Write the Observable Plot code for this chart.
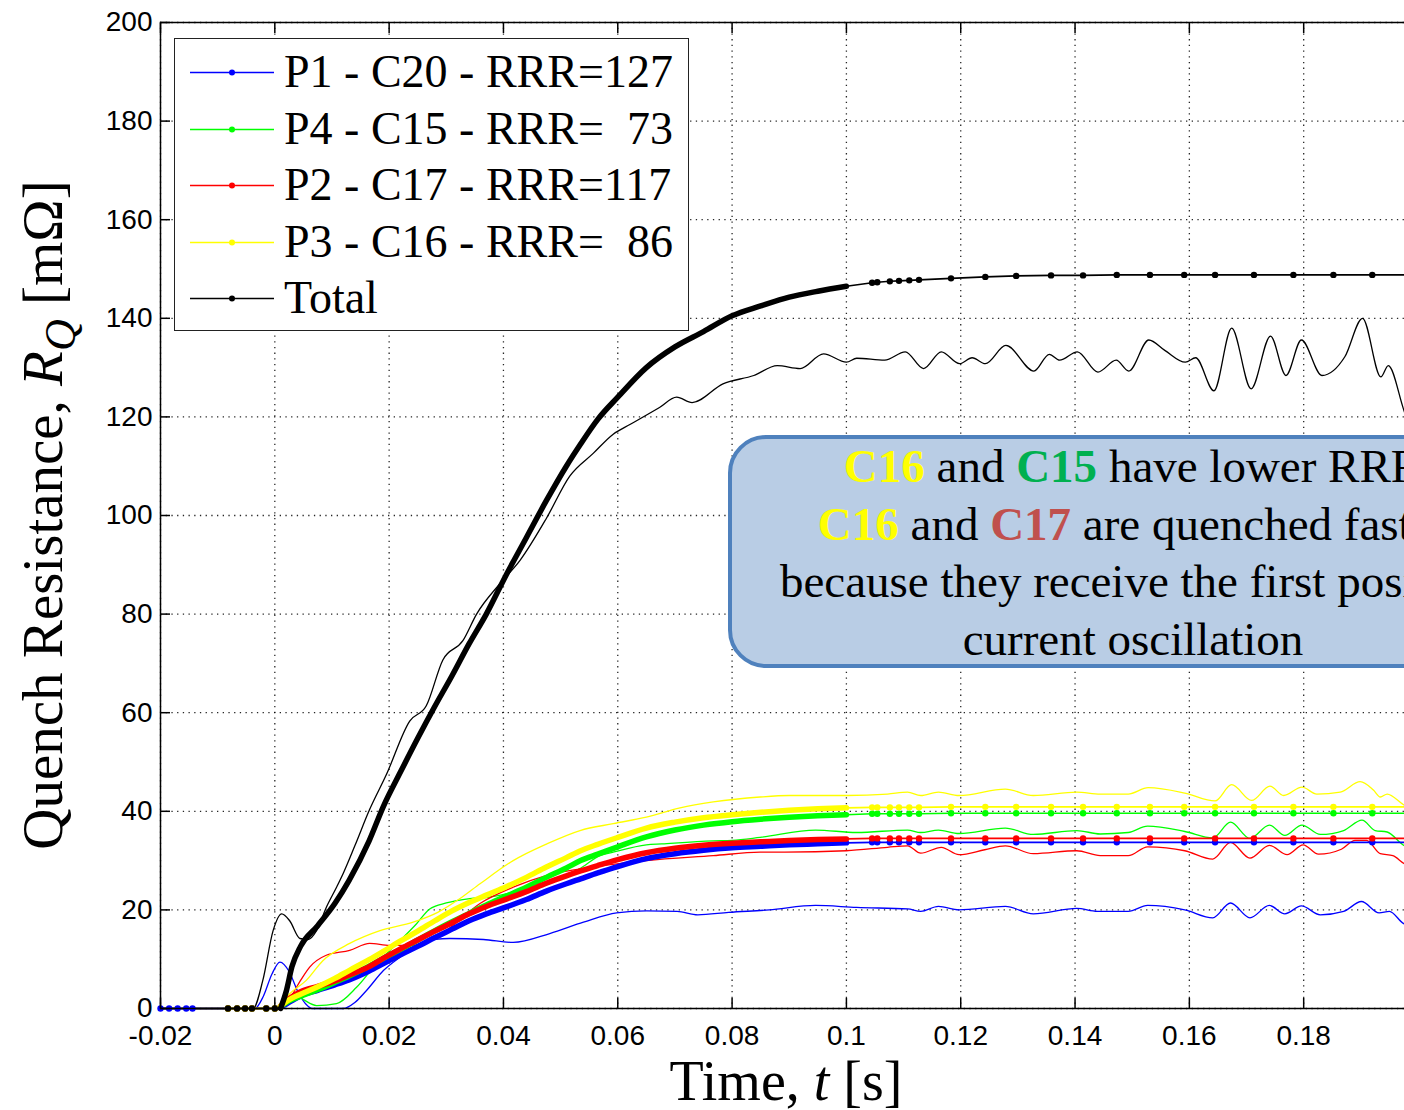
<!DOCTYPE html>
<html>
<head>
<meta charset="utf-8">
<script src="https://cdn.jsdelivr.net/npm/d3@7"></script>
<script src="https://cdn.jsdelivr.net/npm/@observablehq/plot@0.6"></script>
<style>
html,body{margin:0;padding:0;background:#fff;overflow:hidden;width:1404px;height:1110px}
#wrap{position:relative;width:1420px;height:1110px}
#legend{position:absolute;left:174px;top:38px;width:515px;height:293px;box-sizing:border-box;border:1.5px solid #222;background:#fff;font-family:"Liberation Serif","Times New Roman",serif;font-size:46px;color:#000}
.row{position:absolute;left:0;width:100%;height:56.5px;line-height:56.5px;white-space:pre}
.row svg{position:absolute;left:15px;top:0}
.row span{position:absolute;left:109px;top:0}
#note{position:absolute;left:728px;top:435px;width:810px;height:233px;box-sizing:border-box;border:4px solid #4f81bd;border-radius:38px;background:#b9cde5}
#notetext{position:absolute;left:728px;top:438px;width:810px;text-align:center;font-family:"Liberation Serif","Times New Roman",serif;font-size:47px;line-height:57.5px;white-space:nowrap;color:#000}
#notetext b{font-weight:bold}
</style>
</head>
<body>
<div id="wrap"></div>
<script>
// ---------- data ----------
const xTicks = [-0.02, 0, 0.02, 0.04, 0.06, 0.08, 0.1, 0.12, 0.14, 0.16, 0.18, 0.2];
const xLabelTicks = [-0.02, 0, 0.02, 0.04, 0.06, 0.08, 0.1, 0.12, 0.14, 0.16, 0.18];
const yTicks = [0, 20, 40, 60, 80, 100, 120, 140, 160, 180, 200];

const seriesNames = ["P1 - C20 - RRR=127", "P4 - C15 - RRR=  73", "P2 - C17 - RRR=117", "P3 - C16 - RRR=  86", "Total"];
const seriesColors = ["#0000ff", "#00ff00", "#ff0000", "#ffff00", "#000000"];

// simulated curves (marker curves), shared time samples
const simTime = [-0.02, -0.0185, -0.017, -0.0155, -0.0144, -0.0082, -0.0066, -0.0052, -0.004, -0.0015, 0,
  0.001, 0.002, 0.003, 0.0045, 0.0075, 0.0105, 0.013, 0.0165, 0.019, 0.022,
  0.025, 0.028, 0.031, 0.034, 0.037, 0.0405, 0.044, 0.0475, 0.051, 0.0535,
  0.0565, 0.06, 0.065, 0.07, 0.075, 0.08, 0.085, 0.09, 0.095, 0.1,
  0.1045, 0.1054, 0.1076, 0.1092, 0.111, 0.1127, 0.1183, 0.1243, 0.1297, 0.1358,
  0.1414, 0.1473, 0.1531, 0.1591, 0.1645, 0.1713, 0.1782, 0.1852, 0.192, 0.2];

const simP1 = [0,0,0,0,0,0,0,0,0,0,0,
  0.3,0.9,1.6,2.6,3.7,4.8,5.8,7.6,9.1,10.9,
  12.6,14.4,16.1,17.8,19.2,20.6,22.1,23.8,25.3,26.3,
  27.5,28.8,30.4,31.4,32.1,32.6,32.9,33.2,33.4,33.6,
  33.7,33.7,33.7,33.7,33.7,33.7,33.7,33.7,33.7,33.7,
  33.7,33.7,33.7,33.7,33.7,33.7,33.7,33.7,33.7,33.7];
const simP4 = [null,null,null,null,null,0,0,0,0,0,0,
  0.4,1.2,1.8,2.5,3.8,5.3,6.6,8.6,10.2,12,
  13.9,15.8,17.6,19.3,21,22.8,24.6,26.6,28.5,30,
  31.3,32.8,34.8,36.2,37.2,37.9,38.4,38.8,39.1,39.3,
  39.5,39.5,39.5,39.5,39.5,39.5,39.6,39.6,39.6,39.6,
  39.6,39.6,39.6,39.6,39.6,39.6,39.6,39.6,39.6,39.6];
const simP2 = [null,null,null,null,null,0,0,0,0,0,0,
  0.5,1.5,2.4,3.4,4.5,5.6,6.8,8.5,10.2,12.1,
  13.9,15.7,17.4,19.2,20.7,22.2,23.7,25.4,26.9,27.9,
  29,30.2,31.6,32.5,33.1,33.5,33.8,34.1,34.3,34.4,
  34.5,34.5,34.5,34.5,34.5,34.5,34.5,34.5,34.5,34.5,
  34.5,34.5,34.5,34.5,34.5,34.5,34.5,34.5,34.5,34.5];
const simP3 = [null,null,null,null,null,0,0,0,0,0,0,
  0.5,1.4,2.1,2.9,4.4,6.1,7.7,9.9,11.6,13.7,
  15.7,17.8,19.8,21.5,23,24.7,26.6,28.7,30.6,32,
  33.3,34.7,36.6,37.8,38.7,39.3,39.8,40.2,40.5,40.7,
  40.8,40.8,40.8,40.8,40.8,40.8,40.9,40.9,40.9,40.9,
  40.9,40.9,40.9,40.9,40.9,40.9,40.9,40.9,40.9,40.9];
const simTotal = [null,null,null,null,null,0,0,0,0,0,0,
  0,3.5,8.5,12.6,16.8,21.3,26,34,41,48,
  54.8,61.3,67.5,74,80,88,95.5,103,110,114.5,
  119.5,124,130,134.2,137.3,140.5,142.5,144.3,145.5,146.5,
  147.2,147.3,147.5,147.6,147.7,147.8,148.1,148.4,148.6,148.7,
  148.7,148.8,148.8,148.8,148.8,148.8,148.8,148.8,148.8,148.8];

// measured curves (thin lines), [time, value]
const measP1 = [[-0.02,0],[-0.0035,0],[-0.002,2.5],[-0.0005,7],[0.0009,9.4],[0.0025,7.5],[0.004,3.5],[0.0055,0.8],[0.0065,0],[0.012,0],[0.014,1.2],[0.016,3.6],[0.019,7.7],[0.022,10.5],[0.0248,12.8],[0.028,14],[0.0306,14.2],[0.0365,14],[0.0417,13.4],[0.0481,15.2],[0.054,17.5],[0.0598,19.4],[0.065,19.8],[0.0704,19.7],[0.074,19],[0.0794,19.5],[0.0865,20],[0.0946,20.9],[0.1018,20.5],[0.1107,20.2],[0.113,19.7],[0.1161,20.7],[0.1197,20],[0.1278,20.7],[0.1327,19.2],[0.1403,20.3],[0.1439,19.7],[0.1493,19.7],[0.1527,20.9],[0.1592,20],[0.1641,18.4],[0.1672,21.4],[0.1706,18.4],[0.174,20.9],[0.1767,19.2],[0.1796,20.8],[0.1829,19],[0.187,19.7],[0.1901,21.7],[0.1932,19.4],[0.195,19.7],[0.1975,17.2],[0.2,16.5]];
const measP4 = [[-0.02,0],[0.0005,0],[0.002,1.5],[0.0035,2.8],[0.005,1.8],[0.0073,0.6],[0.0108,1],[0.0143,4.3],[0.0178,9.1],[0.0207,12.4],[0.0248,17.2],[0.0271,20.2],[0.03,21.4],[0.0341,22.3],[0.0376,22.6],[0.0417,23.6],[0.0476,25.6],[0.0534,28.4],[0.0569,31],[0.0592,31.7],[0.065,33.2],[0.0677,33.4],[0.0767,34],[0.08,34.1],[0.0849,34.7],[0.0946,36.2],[0.1018,35.7],[0.1107,36.2],[0.113,35.7],[0.1161,36.2],[0.1197,35.5],[0.1278,36.6],[0.1327,35.3],[0.1403,36.1],[0.1444,35.4],[0.1493,35.7],[0.1527,37],[0.1592,35.9],[0.1641,34.6],[0.1672,37.8],[0.1706,34.5],[0.174,37.2],[0.1767,35.1],[0.1797,37.2],[0.1829,35.3],[0.187,36.1],[0.1902,38.2],[0.1925,36.1],[0.1946,35.8],[0.1977,33],[0.2,32.5]];
const measP2 = [[-0.02,0],[0.001,0],[0.0026,2],[0.0044,5.5],[0.0061,8.4],[0.009,10.8],[0.0131,11.8],[0.0166,13.2],[0.0201,12.8],[0.0242,12.8],[0.027,13.5],[0.03,15.8],[0.0359,21.3],[0.0417,24.6],[0.0476,27],[0.0557,28.7],[0.065,30],[0.0767,31],[0.0849,31.7],[0.0892,31.7],[0.1,32],[0.1072,32.7],[0.1107,33],[0.113,31.5],[0.1166,32.7],[0.1197,31.2],[0.1242,32.2],[0.1278,33],[0.1327,31.4],[0.1403,32],[0.1444,31],[0.1493,31],[0.1527,32.8],[0.1592,32],[0.1641,30.3],[0.1672,33.7],[0.1706,30.5],[0.174,33.1],[0.1771,31.2],[0.1799,33.2],[0.1826,31.3],[0.1866,32.3],[0.189,34.1],[0.191,34.1],[0.1934,31.4],[0.1956,31],[0.1977,29.3],[0.2,28.5]];
const measP3 = [[-0.02,0],[0.0005,0],[0.0026,3],[0.0055,5.7],[0.0084,9.7],[0.0131,13.2],[0.0184,15.8],[0.0242,17.5],[0.0285,19.5],[0.0324,22.3],[0.0359,25.3],[0.0417,30],[0.0476,33.4],[0.0534,36.1],[0.0592,37.5],[0.065,38.8],[0.0709,40.7],[0.0767,41.9],[0.0849,42.9],[0.09,43.2],[0.1,43.2],[0.1072,43.5],[0.1107,43.9],[0.113,43.2],[0.1161,43.9],[0.1197,43.2],[0.1278,44.5],[0.1327,43.2],[0.1403,43.9],[0.1444,43.5],[0.1493,43.5],[0.1528,44.8],[0.1592,43.7],[0.1645,42.1],[0.1674,45.4],[0.1709,42.2],[0.1741,45.1],[0.1765,43.2],[0.1797,44.9],[0.1823,43.5],[0.1864,43.9],[0.1899,46],[0.1922,44.3],[0.1934,42.9],[0.1946,43.5],[0.1977,41.2],[0.2,40.5]];
const measTotal = [[-0.02,0],[-0.0038,0],[-0.0021,5.7],[-0.0003,15.8],[0.0012,19.2],[0.0026,17.8],[0.0044,14.2],[0.0058,14],[0.0073,15.8],[0.009,20.5],[0.0108,24.6],[0.012,27.5],[0.014,33],[0.0166,40.4],[0.0195,47.4],[0.0236,58.3],[0.0265,61.4],[0.0294,70.7],[0.0329,74.6],[0.0353,80],[0.0394,86.2],[0.0429,90.9],[0.0475,99.4],[0.0516,108],[0.0557,112.6],[0.0592,116.5],[0.0622,118.5],[0.0673,121.9],[0.0703,124],[0.073,122.9],[0.0784,126.7],[0.0838,128.4],[0.0879,130.4],[0.0919,129.8],[0.096,132.8],[0.1,131.1],[0.1018,131.9],[0.1067,131.5],[0.1103,133.2],[0.1135,129.8],[0.1166,133.2],[0.1198,130.8],[0.122,132],[0.1243,130.8],[0.1279,134.5],[0.1328,129.3],[0.1355,132.7],[0.1373,131.5],[0.1404,133.2],[0.144,129.1],[0.1472,131.5],[0.1494,129.3],[0.1529,135.6],[0.1557,133.5],[0.1593,131.1],[0.1611,132],[0.1643,125.3],[0.1674,138],[0.1708,125.7],[0.1742,136.4],[0.1769,128.4],[0.1796,135.6],[0.1832,128.4],[0.1872,132.2],[0.1903,140],[0.1935,128.1],[0.1948,130.4],[0.1978,120.5],[0.2,116]];

// ---------- build ----------
const simValues = [simP1, simP4, simP2, simP3, simTotal];
const measValues = [measP1, measP4, measP2, measP3, measTotal];
const denseEnd = 0.1;

const marks = [
  Plot.gridX({ticks: xTicks, stroke: "#000", strokeOpacity: 0.85, strokeWidth: 1.3, strokeDasharray: "1.3,4.4"}),
  Plot.gridY({ticks: yTicks, stroke: "#000", strokeOpacity: 0.85, strokeWidth: 1.3, strokeDasharray: "1.3,4.4"})
];
// measured (thin) lines
measValues.forEach((m, i) => {
  const rows = m.map(([t, v]) => ({t, v}));
  marks.push(Plot.line(rows, {x: "t", y: "v", stroke: seriesColors[i], strokeWidth: 1.3, curve: "monotone-x"}));
});
// simulated (marker) curves
simValues.forEach((vals, i) => {
  const rows = simTime.map((t, j) => ({t, v: vals[j]})).filter(d => d.v != null);
  const c = seriesColors[i];
  marks.push(Plot.line(rows, {x: "t", y: "v", stroke: c, strokeWidth: 1.6}));
  marks.push(Plot.line(rows.filter(d => d.t >= 0.0005 && d.t <= denseEnd), {x: "t", y: "v", stroke: c, strokeWidth: i === 4 ? 5.5 : 5.5, strokeLinecap: "round", strokeLinejoin: "round", curve: "monotone-x"}));
  marks.push(Plot.dot(rows.filter(d => d.t < 0.0005 || d.t > denseEnd), {x: "t", y: "v", r: 3.2, fill: c, stroke: "none"}));
});
const fmtX = d => (Math.abs(d) < 1e-12 ? "0" : String(+d.toFixed(2)));
marks.push(
  Plot.axisX({ticks: xLabelTicks, tickSize: 0, tickPadding: 17, tickFormat: fmtX, label: null}),
  Plot.axisX({ticks: xTicks, tickSize: -10, fill: "none", strokeWidth: 1.5, label: null}),
  Plot.axisX({anchor: "top", ticks: xTicks, tickSize: -10, fill: "none", strokeWidth: 1.5, label: null}),
  Plot.axisY({ticks: yTicks, tickSize: 0, tickPadding: 8, tickFormat: d => String(d), label: null}),
  Plot.axisY({ticks: yTicks, tickSize: -10, fill: "none", strokeWidth: 1.5, label: null}),
  Plot.frame({stroke: "#000", strokeWidth: 1.5})
);

const chart = Plot.plot({
  width: 1420,
  height: 1110,
  marginLeft: 160,
  marginRight: 2.5,
  marginTop: 22,
  marginBottom: 102,
  x: {domain: [-0.02, 0.2]},
  y: {domain: [0, 200]},
  style: {fontFamily: "'Liberation Sans', Arial, sans-serif", fontSize: "28px", color: "#000", background: "#fff", maxWidth: "none", overflow: "visible"},
  marks
});

// axis titles with italic / subscript parts
const svg = d3.select(chart);
const xl = svg.append("text")
  .attr("x", 786).attr("y", 1100).attr("text-anchor", "middle")
  .style("font-family", "'Liberation Serif','Times New Roman',serif").style("font-size", "56px").attr("fill", "#000");
xl.append("tspan").text("Time, ");
xl.append("tspan").attr("font-style", "italic").text("t");
xl.append("tspan").text(" [s]");

const yl = svg.append("text")
  .attr("transform", "translate(62,515) rotate(-90)").attr("text-anchor", "middle")
  .style("font-family", "'Liberation Serif','Times New Roman',serif").style("font-size", "57px").attr("fill", "#000");
yl.append("tspan").text("Quench Resistance, ");
yl.append("tspan").attr("font-style", "italic").text("R");
yl.append("tspan").attr("font-style", "italic").attr("dy", 13).style("font-size", "44px").text("Q");
yl.append("tspan").attr("dy", -13).text(" [mΩ]");

const wrap = document.getElementById("wrap");
wrap.appendChild(chart);

// legend
const legend = document.createElement("div");
legend.id = "legend";
seriesNames.forEach((name, i) => {
  const row = document.createElement("div");
  row.className = "row";
  row.style.top = (5 + 56.5 * i) + "px";
  row.innerHTML = `<svg width="86" height="56.5"><line x1="0" x2="84" y1="28.5" y2="28.5" stroke="${seriesColors[i]}" stroke-width="1.6"/><circle cx="42" cy="28.5" r="3" fill="${seriesColors[i]}"/></svg><span></span>`;
  row.querySelector("span").textContent = name;
  legend.appendChild(row);
});
wrap.appendChild(legend);

// annotation
const note = document.createElement("div");
note.id = "note";
wrap.appendChild(note);
const noteText = document.createElement("div");
noteText.id = "notetext";
noteText.innerHTML = `<b style="color:#ffff00">C16</b> and <b style="color:#00b050">C15</b> have lower RRR<br>` +
  `<b style="color:#ffff00">C16</b> and <b style="color:#c0504d">C17</b> are quenched faster<br>` +
  `because they receive the first positive<br>current oscillation`;
wrap.appendChild(noteText);
</script>
</body>
</html>
